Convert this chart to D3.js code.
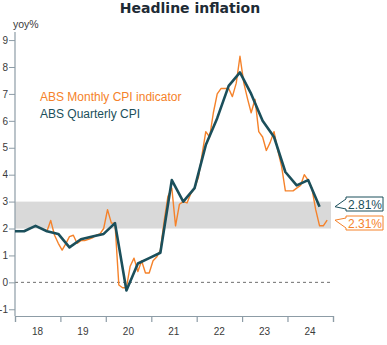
<!DOCTYPE html>
<html><head><meta charset="utf-8">
<script src="https://cdn.jsdelivr.net/npm/d3@7"></script>
<style>
html,body{margin:0;padding:0;background:#fff;}
svg{display:block;font-family:"Liberation Sans",Arial,sans-serif;}
</style></head>
<body><svg id="c" width="387" height="345"></svg>
<script>
// ---- data ----
const quarterDates = ["2017-12","2018-03","2018-06","2018-09","2018-12","2019-03","2019-06","2019-09","2019-12",
  "2020-03","2020-06","2020-09","2020-12","2021-03","2021-06","2021-09","2021-12","2022-03","2022-06","2022-09","2022-12",
  "2023-03","2023-06","2023-09","2023-12","2024-03","2024-06","2024-09"];
const quarterlyCPI = [1.9,1.9,2.1,1.9,1.8,1.3,1.6,1.7,1.8,2.2,-0.3,0.7,0.9,1.1,3.8,3.0,3.5,5.1,6.1,7.3,7.8,7.0,6.0,5.4,4.1,3.6,3.8,2.81];
const monthStart = "2018-09";
const monthlyCPI = [
  1.9,2.3,1.75,1.45,                                  // 2018 Sep-Dec
  1.2,1.45,1.7,1.75,1.45,1.55,1.55,1.6,1.65,1.75,1.8,2.0, // 2019
  2.7,2.2,2.2,-0.1,-0.2,-0.2,0.6,0.9,0.4,0.8,0.35,0.35,   // 2020
  0.8,0.95,1.2,2.3,3.2,3.5,2.1,2.9,3.0,2.95,3.3,3.5,      // 2021
  3.9,4.8,5.6,5.4,6.3,7.0,7.2,7.2,7.2,6.9,7.4,8.4,        // 2022
  7.4,6.8,6.3,6.8,5.6,5.4,4.9,5.2,5.6,4.9,4.3,3.4,        // 2023
  3.4,3.4,3.5,3.6,4.0,3.8,3.5,2.7,2.1,2.1,2.31            // 2024 Jan-Nov
];
const yTicks = [-1,0,1,2,3,4,5,6,7,8,9];
const yearLabels = ["18","19","20","21","22","23","24"];
const targetBand = [2,3];
const title = "Headline inflation";
const seriesNames = ["ABS Monthly CPI indicator","ABS Quarterly CPI"];

// ---- setup ----
const ORANGE = "#f5822a", TEAL = "#1b4f5b", AXIS = "#8d9ca6", TXT = "#3a3a3a";
const svg = d3.select("#c");
const parseM = d3.timeParse("%Y-%m");
const mid = s => { const d = parseM(s); return new Date(d.getFullYear(), d.getMonth(), 15); };
const qData = quarterDates.map((s,i)=>({date:mid(s), v:quarterlyCPI[i]}));
const m0 = parseM(monthStart);
const mData = monthlyCPI.map((v,i)=>({date:new Date(m0.getFullYear(), m0.getMonth()+i, 15), v}));

const x = d3.scaleTime().domain([new Date(2018,0,1), new Date(2025,0,1)]).range([15,333]);
const y = d3.scaleLinear().domain([-1.25,9.3]).range([316,32]);

svg.append("defs").append("clipPath").attr("id","clip")
  .append("rect").attr("x",15).attr("y",0).attr("width",318).attr("height",345);

// title
svg.append("text").attr("x",190).attr("y",13).attr("text-anchor","middle")
  .attr("font-family","DejaVu Sans").attr("font-weight","bold").attr("font-size",14).attr("fill","#1e2b35").text(title);

// band
svg.append("rect").attr("x",x.range()[0]).attr("y",y(targetBand[1]))
  .attr("width",x.range()[1]-x.range()[0]-2).attr("height",y(targetBand[0])-y(targetBand[1]))
  .attr("fill","#d9d9d9");

// zero line
svg.append("line").attr("x1",15).attr("x2",333).attr("y1",y(0)).attr("y2",y(0))
  .attr("stroke","#6e6e6e").attr("stroke-width",1).attr("stroke-dasharray","3,3");

// y axis
const yAxis = svg.append("g").attr("transform","translate(15,0)")
  .call(d3.axisLeft(y).tickValues(yTicks).tickSize(6).tickPadding(1).tickFormat(d=>String(d)));
yAxis.select(".domain").attr("d",`M0,${y.range()[1]}V${y.range()[0]}`).attr("stroke",AXIS).attr("stroke-width",1.2);
yAxis.selectAll(".tick line").attr("stroke",AXIS);
yAxis.selectAll(".tick text").attr("fill",TXT).attr("font-size",10).attr("font-family","Liberation Sans");

svg.append("text").attr("x",13).attr("y",28).attr("font-size",10.5).attr("fill",TXT).text("yoy%");

// x axis
const yearBounds = d3.range(2018,2026).map(yr=>new Date(yr,0,1));
const xAxis = svg.append("g").attr("transform",`translate(0,${y.range()[0]})`)
  .call(d3.axisBottom(x).tickValues(yearBounds).tickSize(6).tickFormat(""));
xAxis.select(".domain").attr("stroke",AXIS).attr("stroke-width",1.2);
xAxis.selectAll(".tick line").attr("stroke",AXIS).attr("stroke-width",1.2);
svg.append("g").selectAll("text").data(yearLabels).join("text")
  .attr("x",(d,i)=>x(new Date(2018+i,6,1)))
  .attr("y",335).attr("text-anchor","middle").attr("font-size",10).attr("fill",TXT).text(d=>d);

// lines
const line = d3.line().x(d=>x(d.date)).y(d=>y(d.v));
const g = svg.append("g").attr("clip-path","url(#clip)");
g.append("path").datum(mData).attr("d",line).attr("fill","none")
  .attr("stroke",ORANGE).attr("stroke-width",1.4).attr("stroke-linejoin","round");
g.append("path").datum(qData).attr("d",line).attr("fill","none")
  .attr("stroke",TEAL).attr("stroke-width",2.6).attr("stroke-linejoin","round");

// legend
svg.append("text").attr("x",40).attr("y",101).attr("font-size",12).attr("fill",ORANGE).text(seriesNames[0]);
svg.append("text").attr("x",40).attr("y",118).attr("font-size",12).attr("fill",TEAL).text(seriesNames[1]);

// callouts
function callout(val, boxMidY, color){
  const tipX = 335, bx = 346, bw = 37, bh = 14;
  const top = boxMidY - bh/2, bot = boxMidY + bh/2;
  const tipY = y(val);
  svg.append("path")
    .attr("d",`M${tipX},${tipY}L${bx},${top+2}L${bx},${top}L${bx+bw},${top}L${bx+bw},${bot}L${bx},${bot}L${bx},${bot-2}Z`)
    .attr("fill","#fff").attr("stroke",color).attr("stroke-width",1);
  svg.append("text").attr("x",bx+bw/2+0.5).attr("y",boxMidY+4.5).attr("text-anchor","middle")
    .attr("font-size",12).attr("fill",color).text(d3.format(".2f")(val)+"%");
}
callout(quarterlyCPI[quarterlyCPI.length-1], 204, TEAL);
callout(monthlyCPI[monthlyCPI.length-1], 223, ORANGE);
</script></body></html>
